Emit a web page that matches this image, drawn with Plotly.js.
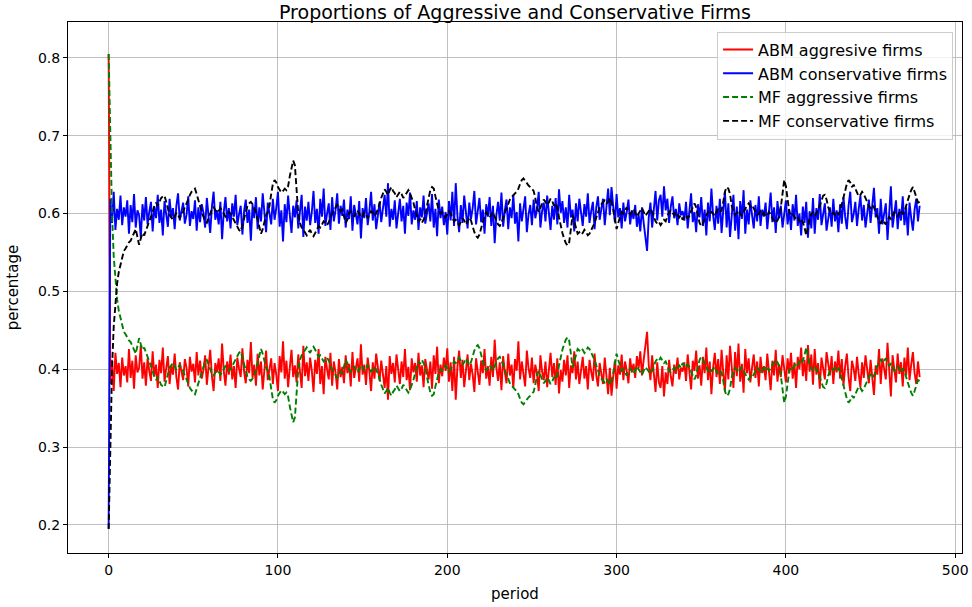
<!DOCTYPE html>
<html>
<head>
<meta charset="utf-8">
<script src="https://cdn.plot.ly/plotly-3.0.1.min.js"></script>
<style>
html,body{margin:0;padding:0;background:#fff;}
#chart{width:972px;height:607px;}
</style>
</head>
<body>
<div id="chart"></div>
<script>
// ABM aggressive firms (periods 0..479)
const abmAggressive = [
0.805,0.381,0.412,0.372,0.421,0.394,0.408,0.377,0.415,0.392,
0.404,0.383,0.426,0.389,0.411,0.375,0.418,0.396,0.402,0.431,
0.388,0.409,0.379,0.414,0.398,0.385,0.423,0.391,0.406,0.376,
0.412,0.395,0.428,0.384,0.401,0.417,0.381,0.405,0.393,0.420,
0.390,0.374,0.409,0.399,0.386,0.413,0.402,0.378,0.416,0.397,
0.407,0.383,0.422,0.392,0.411,0.388,0.399,0.418,0.380,0.403,
0.425,0.391,0.372,0.408,0.396,0.414,0.385,0.433,0.398,0.379,
0.410,0.393,0.419,0.387,0.404,0.376,0.415,0.401,0.390,0.427,
0.397,0.382,0.412,0.395,0.435,0.389,0.406,0.379,0.420,0.392,
0.410,0.374,0.403,0.424,0.386,0.399,0.414,0.381,0.408,0.393,
0.372,0.417,0.396,0.436,0.388,0.411,0.377,0.402,0.425,0.390,
0.405,0.383,0.419,0.397,0.376,0.430,0.391,0.409,0.385,0.415,
0.398,0.371,0.412,0.394,0.426,0.381,0.404,0.368,0.416,0.400,
0.387,0.421,0.379,0.410,0.396,0.374,0.413,0.390,0.403,0.382,
0.418,0.395,0.407,0.378,0.422,0.389,0.401,0.414,0.384,0.432,
0.393,0.406,0.380,0.415,0.397,0.372,0.409,0.388,0.420,0.399,
0.385,0.411,0.392,0.376,0.404,0.361,0.417,0.394,0.408,0.383,
0.419,0.397,0.381,0.410,0.390,0.426,0.386,0.403,0.373,0.414,
0.396,0.408,0.384,0.421,0.392,0.405,0.377,0.413,0.399,0.387,
0.410,0.375,0.418,0.394,0.429,0.382,0.406,0.391,0.415,0.398,
0.427,0.384,0.409,0.372,0.416,0.361,0.403,0.424,0.389,0.412,
0.377,0.400,0.419,0.386,0.407,0.393,0.371,0.414,0.398,0.380,
0.411,0.395,0.426,0.388,0.404,0.379,0.416,0.390,0.438,0.402,
0.385,0.409,0.373,0.417,0.396,0.382,0.420,0.392,0.406,0.376,
0.413,0.398,0.436,0.387,0.410,0.393,0.378,0.424,0.401,0.389,
0.415,0.382,0.406,0.394,0.372,0.418,0.397,0.386,0.410,0.377,
0.403,0.421,0.390,0.408,0.380,0.414,0.369,0.399,0.384,0.412,
0.392,0.418,0.376,0.405,0.395,0.423,0.387,0.410,0.381,0.399,
0.416,0.388,0.404,0.374,0.412,0.397,0.385,0.420,0.392,0.378,
0.408,0.394,0.381,0.415,0.389,0.368,0.402,0.366,0.391,0.411,
0.375,0.405,0.393,0.419,0.386,0.410,0.398,0.382,0.414,0.396,
0.407,0.389,0.417,0.401,0.423,0.392,0.412,0.430,0.448,0.405,
0.386,0.418,0.393,0.371,0.409,0.383,0.376,0.404,0.365,0.396,
0.381,0.412,0.391,0.378,0.406,0.394,0.415,0.387,0.402,0.397,
0.409,0.385,0.419,0.392,0.374,0.411,0.398,0.424,0.388,0.405,
0.379,0.416,0.395,0.428,0.386,0.410,0.368,0.402,0.421,0.390,
0.413,0.381,0.425,0.396,0.372,0.418,0.387,0.430,0.399,0.376,
0.422,0.391,0.433,0.384,0.407,0.370,0.426,0.395,0.414,0.383,
0.402,0.419,0.389,0.410,0.378,0.416,0.395,0.404,0.386,0.420,
0.397,0.373,0.411,0.392,0.425,0.384,0.406,0.390,0.418,0.398,
0.383,0.414,0.395,0.421,0.388,0.409,0.376,0.416,0.400,0.428,
0.391,0.412,0.385,0.431,0.397,0.419,0.380,0.426,0.393,0.408,
0.375,0.415,0.398,0.387,0.422,0.403,0.392,0.417,0.381,0.410,
0.396,0.424,0.388,0.413,0.379,0.404,0.420,0.390,0.372,0.411,
0.401,0.385,0.416,0.394,0.377,0.409,0.389,0.418,0.398,0.382,
0.412,0.390,0.367,0.405,0.393,0.426,0.381,0.414,0.399,0.387,
0.434,0.396,0.365,0.418,0.401,0.383,0.420,0.394,0.409,0.378,
0.415,0.392,0.428,0.386,0.406,0.422,0.395,0.381,0.410,0.390
];

// ABM conservative firms
const abmConservative = [
0.195,0.619,0.588,0.628,0.579,0.606,0.592,0.623,0.585,0.608,
0.596,0.617,0.574,0.611,0.589,0.625,0.582,0.604,0.598,0.569,
0.612,0.591,0.621,0.586,0.602,0.615,0.577,0.609,0.594,0.624,
0.588,0.605,0.572,0.616,0.599,0.583,0.619,0.595,0.607,0.580,
0.610,0.626,0.591,0.601,0.614,0.587,0.598,0.622,0.584,0.603,
0.593,0.617,0.578,0.608,0.589,0.612,0.601,0.582,0.620,0.597,
0.575,0.609,0.628,0.592,0.604,0.586,0.615,0.567,0.602,0.621,
0.590,0.607,0.581,0.613,0.596,0.624,0.585,0.599,0.610,0.573,
0.603,0.618,0.588,0.605,0.565,0.611,0.594,0.621,0.580,0.608,
0.590,0.626,0.597,0.576,0.614,0.601,0.586,0.619,0.592,0.607,
0.628,0.583,0.604,0.564,0.612,0.589,0.623,0.598,0.575,0.610,
0.595,0.617,0.581,0.603,0.624,0.570,0.609,0.591,0.615,0.585,
0.602,0.629,0.588,0.606,0.574,0.619,0.596,0.632,0.584,0.600,
0.613,0.579,0.621,0.590,0.604,0.626,0.587,0.610,0.597,0.618,
0.582,0.605,0.593,0.622,0.578,0.611,0.599,0.586,0.616,0.568,
0.607,0.594,0.620,0.585,0.603,0.628,0.591,0.612,0.580,0.601,
0.615,0.589,0.608,0.624,0.596,0.639,0.583,0.606,0.592,0.617,
0.581,0.603,0.619,0.590,0.610,0.574,0.614,0.597,0.627,0.586,
0.604,0.592,0.616,0.579,0.608,0.595,0.623,0.587,0.601,0.613,
0.590,0.625,0.582,0.606,0.571,0.618,0.594,0.609,0.585,0.602,
0.573,0.616,0.591,0.628,0.584,0.639,0.597,0.576,0.611,0.588,
0.623,0.600,0.581,0.614,0.593,0.607,0.629,0.586,0.602,0.620,
0.589,0.605,0.574,0.612,0.596,0.621,0.584,0.610,0.562,0.598,
0.615,0.591,0.627,0.583,0.604,0.618,0.580,0.608,0.594,0.624,
0.587,0.602,0.564,0.613,0.590,0.607,0.622,0.576,0.599,0.611,
0.585,0.618,0.594,0.606,0.628,0.582,0.603,0.614,0.590,0.623,
0.597,0.579,0.610,0.592,0.620,0.586,0.631,0.601,0.616,0.588,
0.608,0.582,0.624,0.595,0.605,0.577,0.613,0.590,0.619,0.601,
0.584,0.612,0.596,0.626,0.588,0.603,0.615,0.580,0.608,0.622,
0.592,0.606,0.619,0.585,0.611,0.632,0.598,0.634,0.609,0.589,
0.625,0.595,0.607,0.581,0.614,0.590,0.602,0.618,0.586,0.604,
0.593,0.611,0.583,0.599,0.577,0.608,0.588,0.570,0.552,0.595,
0.614,0.582,0.607,0.629,0.591,0.617,0.624,0.596,0.635,0.604,
0.619,0.588,0.609,0.622,0.594,0.606,0.585,0.613,0.598,0.603,
0.591,0.615,0.581,0.608,0.626,0.589,0.602,0.576,0.612,0.595,
0.621,0.584,0.605,0.572,0.614,0.590,0.632,0.598,0.579,0.610,
0.587,0.619,0.575,0.604,0.628,0.582,0.613,0.570,0.601,0.624,
0.578,0.609,0.567,0.616,0.593,0.630,0.574,0.605,0.586,0.617,
0.598,0.581,0.611,0.590,0.622,0.584,0.605,0.596,0.614,0.580,
0.603,0.627,0.589,0.608,0.575,0.616,0.594,0.610,0.582,0.602,
0.617,0.586,0.605,0.579,0.612,0.591,0.624,0.584,0.600,0.572,
0.609,0.588,0.615,0.569,0.603,0.581,0.620,0.574,0.607,0.592,
0.625,0.585,0.602,0.613,0.578,0.597,0.608,0.583,0.619,0.590,
0.604,0.576,0.612,0.587,0.621,0.596,0.580,0.610,0.628,0.589,
0.599,0.615,0.584,0.606,0.623,0.591,0.611,0.582,0.602,0.618,
0.588,0.610,0.633,0.595,0.607,0.574,0.619,0.586,0.601,0.613,
0.566,0.604,0.635,0.582,0.599,0.617,0.580,0.606,0.591,0.622,
0.585,0.608,0.572,0.614,0.594,0.578,0.605,0.619,0.590,0.610
];

// MF aggressive firms
const mfAggressive = [
0.805,0.680,0.600,0.545,0.510,0.490,0.475,0.465,0.455,0.448,
0.445,0.440,0.437,0.435,0.430,0.425,0.420,0.430,0.440,0.432,
0.425,0.428,0.422,0.418,0.410,0.405,0.398,0.390,0.386,0.390,
0.385,0.380,0.378,0.377,0.385,0.395,0.402,0.405,0.408,0.404,
0.399,0.402,0.406,0.400,0.398,0.392,0.388,0.382,0.376,0.372,
0.370,0.368,0.375,0.384,0.392,0.398,0.404,0.410,0.412,0.405,
0.398,0.394,0.392,0.395,0.399,0.397,0.393,0.396,0.401,0.404,
0.402,0.398,0.400,0.404,0.409,0.414,0.418,0.421,0.423,0.415,
0.405,0.396,0.390,0.387,0.385,0.388,0.392,0.398,0.408,0.418,
0.426,0.420,0.410,0.402,0.398,0.390,0.375,0.362,0.357,0.360,
0.366,0.370,0.373,0.371,0.368,0.370,0.365,0.352,0.340,0.332,
0.338,0.370,0.400,0.412,0.418,0.421,0.425,0.428,0.424,0.421,
0.426,0.429,0.425,0.420,0.416,0.418,0.414,0.410,0.412,0.415,
0.411,0.405,0.400,0.396,0.392,0.389,0.393,0.397,0.395,0.402,
0.412,0.408,0.400,0.397,0.401,0.404,0.399,0.396,0.400,0.405,
0.403,0.398,0.401,0.406,0.402,0.397,0.399,0.403,0.400,0.395,
0.388,0.380,0.373,0.369,0.372,0.376,0.370,0.366,0.371,0.374,
0.379,0.376,0.372,0.375,0.380,0.377,0.373,0.370,0.374,0.380,
0.386,0.395,0.404,0.410,0.407,0.412,0.408,0.402,0.390,0.378,
0.370,0.366,0.368,0.378,0.388,0.396,0.400,0.398,0.402,0.405,
0.401,0.397,0.400,0.406,0.410,0.408,0.412,0.415,0.411,0.406,
0.409,0.414,0.410,0.405,0.409,0.417,0.424,0.429,0.431,0.427,
0.418,0.409,0.403,0.398,0.401,0.405,0.402,0.398,0.404,0.410,
0.414,0.416,0.412,0.405,0.398,0.393,0.388,0.382,0.379,0.376,
0.374,0.372,0.368,0.362,0.357,0.355,0.358,0.362,0.364,0.366,
0.368,0.371,0.380,0.392,0.398,0.393,0.386,0.382,0.385,0.389,
0.386,0.381,0.384,0.390,0.387,0.392,0.405,0.416,0.425,0.432,
0.438,0.441,0.437,0.420,0.402,0.410,0.420,0.426,0.424,0.427,
0.425,0.421,0.424,0.428,0.426,0.422,0.418,0.412,0.405,0.398,
0.392,0.388,0.385,0.383,0.387,0.385,0.380,0.385,0.395,0.410,
0.420,0.412,0.403,0.398,0.400,0.396,0.392,0.397,0.401,0.398,
0.394,0.399,0.404,0.400,0.396,0.393,0.398,0.403,0.400,0.397,
0.394,0.398,0.404,0.410,0.413,0.411,0.415,0.412,0.408,0.410,
0.404,0.398,0.396,0.399,0.402,0.398,0.401,0.405,0.402,0.408,
0.405,0.402,0.406,0.403,0.397,0.392,0.387,0.392,0.403,0.412,
0.416,0.413,0.407,0.402,0.398,0.401,0.398,0.400,0.403,0.398,
0.394,0.398,0.396,0.385,0.372,0.366,0.368,0.375,0.390,0.398,
0.402,0.399,0.396,0.400,0.403,0.398,0.393,0.390,0.387,0.391,
0.389,0.393,0.398,0.402,0.400,0.397,0.401,0.399,0.404,0.402,
0.398,0.401,0.406,0.410,0.412,0.409,0.404,0.392,0.372,0.357,
0.365,0.385,0.398,0.402,0.400,0.404,0.408,0.405,0.410,0.407,
0.411,0.418,0.428,0.418,0.406,0.401,0.398,0.403,0.400,0.396,
0.390,0.382,0.377,0.376,0.382,0.392,0.398,0.401,0.399,0.402,
0.398,0.401,0.397,0.388,0.378,0.370,0.362,0.357,0.360,0.366,
0.363,0.368,0.374,0.378,0.376,0.372,0.375,0.380,0.386,0.390,
0.393,0.389,0.392,0.398,0.405,0.410,0.413,0.408,0.411,0.414,
0.409,0.404,0.407,0.403,0.398,0.401,0.404,0.399,0.396,0.401,
0.398,0.390,0.382,0.376,0.370,0.366,0.372,0.380,0.386,0.385
];

// MF conservative firms
const mfConservative = [
0.195,0.320,0.400,0.455,0.490,0.510,0.525,0.535,0.545,0.552,
0.555,0.560,0.563,0.565,0.570,0.575,0.580,0.570,0.560,0.568,
0.575,0.572,0.578,0.582,0.590,0.595,0.602,0.610,0.614,0.610,
0.615,0.620,0.622,0.623,0.615,0.605,0.598,0.595,0.592,0.596,
0.601,0.598,0.594,0.600,0.602,0.608,0.612,0.618,0.624,0.628,
0.630,0.632,0.625,0.616,0.608,0.602,0.596,0.590,0.588,0.595,
0.602,0.606,0.608,0.605,0.601,0.603,0.607,0.604,0.599,0.596,
0.598,0.602,0.600,0.596,0.591,0.586,0.582,0.579,0.577,0.585,
0.595,0.604,0.610,0.613,0.615,0.612,0.608,0.602,0.592,0.582,
0.574,0.580,0.590,0.598,0.602,0.610,0.625,0.638,0.643,0.640,
0.634,0.630,0.627,0.629,0.632,0.630,0.635,0.648,0.660,0.668,
0.662,0.630,0.600,0.588,0.582,0.579,0.575,0.572,0.576,0.579,
0.574,0.571,0.575,0.580,0.584,0.582,0.586,0.590,0.588,0.585,
0.589,0.595,0.600,0.604,0.608,0.611,0.607,0.603,0.605,0.598,
0.588,0.592,0.600,0.603,0.599,0.596,0.601,0.604,0.600,0.595,
0.597,0.602,0.599,0.594,0.598,0.603,0.601,0.597,0.600,0.605,
0.612,0.620,0.627,0.631,0.628,0.624,0.630,0.634,0.629,0.626,
0.621,0.624,0.628,0.625,0.620,0.623,0.627,0.630,0.626,0.620,
0.614,0.605,0.596,0.590,0.593,0.588,0.592,0.598,0.610,0.622,
0.630,0.634,0.632,0.622,0.612,0.604,0.600,0.602,0.598,0.595,
0.599,0.603,0.600,0.594,0.590,0.592,0.588,0.585,0.589,0.594,
0.591,0.586,0.590,0.595,0.591,0.583,0.576,0.571,0.569,0.573,
0.582,0.591,0.597,0.602,0.599,0.595,0.598,0.602,0.596,0.590,
0.586,0.584,0.588,0.595,0.602,0.607,0.612,0.618,0.621,0.624,
0.626,0.628,0.632,0.638,0.643,0.645,0.642,0.638,0.636,0.634,
0.632,0.629,0.620,0.608,0.602,0.607,0.614,0.618,0.615,0.611,
0.614,0.619,0.616,0.610,0.613,0.608,0.595,0.584,0.575,0.568,
0.562,0.559,0.563,0.580,0.598,0.590,0.580,0.574,0.576,0.573,
0.575,0.579,0.576,0.572,0.574,0.578,0.582,0.588,0.595,0.602,
0.608,0.612,0.615,0.617,0.613,0.615,0.620,0.615,0.605,0.590,
0.580,0.588,0.597,0.602,0.600,0.604,0.608,0.603,0.599,0.602,
0.606,0.601,0.596,0.600,0.604,0.607,0.602,0.597,0.600,0.603,
0.606,0.602,0.596,0.590,0.587,0.589,0.585,0.588,0.592,0.590,
0.596,0.602,0.604,0.601,0.598,0.602,0.599,0.595,0.598,0.592,
0.595,0.598,0.594,0.597,0.603,0.608,0.613,0.608,0.597,0.588,
0.584,0.587,0.593,0.598,0.602,0.599,0.602,0.600,0.597,0.602,
0.606,0.602,0.604,0.615,0.628,0.634,0.632,0.625,0.610,0.602,
0.598,0.601,0.604,0.600,0.597,0.602,0.607,0.610,0.613,0.609,
0.611,0.607,0.602,0.598,0.600,0.603,0.599,0.601,0.596,0.598,
0.602,0.599,0.594,0.590,0.588,0.591,0.596,0.608,0.628,0.643,
0.635,0.615,0.602,0.598,0.600,0.596,0.592,0.595,0.590,0.593,
0.589,0.582,0.572,0.582,0.594,0.599,0.602,0.597,0.600,0.604,
0.610,0.618,0.623,0.624,0.618,0.608,0.602,0.599,0.601,0.598,
0.602,0.599,0.603,0.612,0.622,0.630,0.638,0.643,0.640,0.634,
0.637,0.632,0.626,0.622,0.624,0.628,0.625,0.620,0.614,0.610,
0.607,0.611,0.608,0.602,0.595,0.590,0.587,0.592,0.589,0.586,
0.591,0.596,0.593,0.597,0.602,0.599,0.596,0.601,0.604,0.599,
0.602,0.610,0.618,0.624,0.630,0.634,0.628,0.620,0.614,0.615
];

const periods = abmAggressive.map((_, i) => i);
const xTicks = [0, 100, 200, 300, 400, 500];
const yTicks = [0.2, 0.3, 0.4, 0.5, 0.6, 0.7, 0.8];

const FONT = "DejaVu Sans, Verdana, sans-serif";

const traces = [
  {x: periods, y: abmAggressive, name: "ABM aggresive firms", mode: "lines",
   line: {color: "#ff0000", width: 1.9}},
  {x: periods, y: abmConservative, name: "ABM conservative firms", mode: "lines",
   line: {color: "#0000ff", width: 1.9}},
  {x: periods, y: mfAggressive, name: "MF aggressive firms", mode: "lines",
   line: {color: "#008000", width: 1.9, dash: "6px,3px"}},
  {x: periods, y: mfConservative, name: "MF conservative firms", mode: "lines",
   line: {color: "#000000", width: 1.9, dash: "6px,3px"}}
];

const axisCommon = {
  showgrid: true, gridcolor: "#b0b0b0", gridwidth: 0.8,
  showline: true, linecolor: "#000000", linewidth: 1, mirror: true,
  ticks: "outside", ticklen: 4, tickcolor: "#000000", tickwidth: 1,
  zeroline: false, tickfont: {family: FONT, size: 14, color: "#000000"},
  automargin: false
};

const layout = {
  width: 972, height: 607,
  margin: {l: 68, r: 10, t: 22, b: 54, pad: 0},
  paper_bgcolor: "#ffffff", plot_bgcolor: "#ffffff",
  font: {family: FONT, size: 14, color: "#000000"},
  title: {text: "Proportions of Aggressive and Conservative Firms",
          font: {family: FONT, size: 19, color: "#000000"},
          x: 0.5, xref: "paper", xanchor: "center",
          y: 1 - 12 / 607, yref: "container", yanchor: "middle"},
  xaxis: Object.assign({}, axisCommon, {
    range: [-24, 504], tickvals: xTicks, ticktext: xTicks.map(String),
    title: {text: "period", font: {family: FONT, size: 15, color: "#000000"}, standoff: 11}
  }),
  yaxis: Object.assign({}, axisCommon, {
    range: [0.164, 0.846], tickvals: yTicks, ticktext: yTicks.map(v => v.toFixed(1)),
    title: {text: "percentage", font: {family: FONT, size: 15, color: "#000000"}, standoff: 15}
  }),
  showlegend: true,
  legend: {
    x: 0.99, xanchor: "right", y: 0.982, yanchor: "top",
    bgcolor: "rgba(255,255,255,0.8)", bordercolor: "#cccccc", borderwidth: 1,
    font: {family: FONT, size: 16, color: "#000000"},
    tracegroupgap: 0, itemwidth: 30
  }
};

Plotly.newPlot("chart", traces, layout, {displayModeBar: false, staticPlot: true});
</script>
</body>
</html>
